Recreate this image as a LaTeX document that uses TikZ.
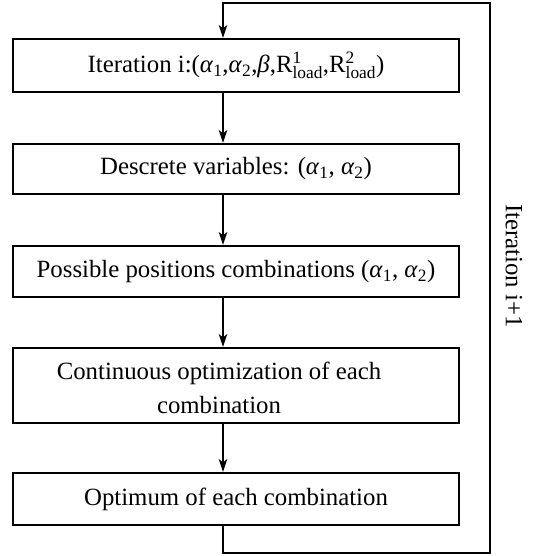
\documentclass[tikz,border=0pt]{standalone}
\usepackage{fontspec}
\setmainfont{Liberation Serif}
\usetikzlibrary{arrows.meta}
\newcommand{\gal}[1]{\textit{α}\textsubscript{#1}}
\begin{document}
\begin{tikzpicture}[x=1pt,y=-1pt,
  box/.style={draw,line width=2pt,minimum width=446pt,inner sep=0pt,anchor=center,font=\fontsize{24.8}{34}\selectfont},
  lbl/.style={font=\fontsize{24.8}{34}\selectfont,align=center,inner sep=0pt},
  conn/.style={line width=1.3pt},
  arr/.style={conn,-{Stealth[length=13pt,width=8.5pt,inset=3.5pt]}}]
\useasboundingbox (0,0) rectangle (559,556);
\node[box,minimum height=53pt] (b1) at (236,65.5) {Iteration i:(\gal{1},\gal{2},\textit{β},$\mathrm{R}^{\mathrm{1}}_{\mathrm{load}}$,$\mathrm{R}^{\mathrm{2}}_{\mathrm{load}}$)};
\node[box,minimum height=50pt] (b2) at (236,169) {Descrete variables: (\gal{1}, \gal{2})};
\node[box,minimum height=51pt] (b3) at (236,271.5) {Possible positions combinations (\gal{1}, \gal{2})};
\node[box,minimum height=75pt] (b4) at (236,385.5) {};
\node[lbl] (t4) at (219,388) {Continuous optimization of each\\combination};
\node[box,minimum height=52pt] (b5) at (236,499) {Optimum of each combination};
\coordinate (ax) at (223,0);
\coordinate (c1) at (223,553);
\coordinate (c2) at (490,553);
\coordinate (c3) at (490,3);
\coordinate (c4) at (223,3);
\draw[arr] (b1.south -| ax) -- (b2.north -| ax);
\draw[arr] (b2.south -| ax) -- (b3.north -| ax);
\draw[arr] (b3.south -| ax) -- (b4.north -| ax);
\draw[arr] (b4.south -| ax) -- (b5.north -| ax);
\draw[arr] (b5.south -| ax) -- (c1) -- (c2) -- (c3) -- (c4) -- (b1.north -| ax);
\node[lbl,rotate=-90] (it) at (514,266) {Iteration i+1};
\end{tikzpicture}
\end{document}
